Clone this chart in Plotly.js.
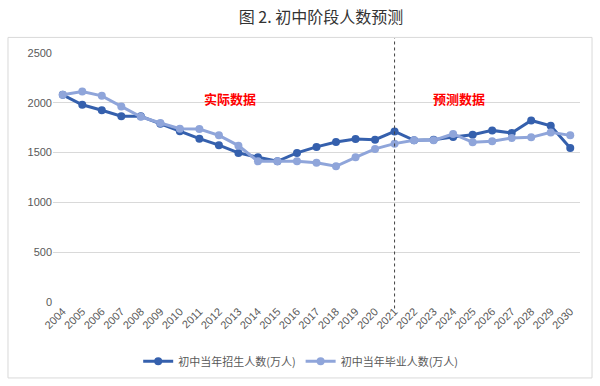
<!DOCTYPE html>
<html>
<head>
<meta charset="utf-8">
<script src="https://cdn.plot.ly/plotly-3.0.1.min.js"></script>
<style>html,body{margin:0;padding:0;background:#fff}#chart{width:600px;height:386px}</style>
</head>
<body>
<div id="chart"></div>
<script>
const years = ["2004","2005","2006","2007","2008","2009","2010","2011","2012","2013","2014","2015","2016","2017","2018","2019","2020","2021","2022","2023","2024","2025","2026","2027","2028","2029","2030"];
const enrollment = [2080,1980,1925,1865,1865,1790,1715,1640,1575,1497,1453,1413,1497,1557,1607,1637,1630,1713,1623,1630,1657,1680,1723,1697,1823,1770,1547];
const graduates = [2080,2113,2070,1963,1860,1797,1740,1737,1673,1570,1413,1413,1413,1397,1363,1453,1537,1590,1623,1623,1687,1603,1613,1647,1653,1703,1673];
const seriesNames = ["初中当年招生人数(万人)","初中当年毕业人数(万人)"];
const yTicks = [0,500,1000,1500,2000,2500];
const splitYear = "2021";
const labels = ["实际数据","预测数据"];

const darkBlue = "#3560ad";
const lightBlue = "#8fa5da";
const traces = [
  {x: years, y: enrollment, name: seriesNames[0], type: "scatter", mode: "lines+markers",
   line: {color: darkBlue, width: 3}, marker: {color: darkBlue, size: 8}},
  {x: years, y: graduates, name: seriesNames[1], type: "scatter", mode: "lines+markers",
   line: {color: lightBlue, width: 3}, marker: {color: lightBlue, size: 8}}
];
const splitIdx = years.indexOf(splitYear);
const layout = {
  width: 600, height: 386,
  margin: {l: 53, r: 20, t: 53, b: 82.5},
  paper_bgcolor: "#fff", plot_bgcolor: "#fff",
  font: {family: "Liberation Sans, Noto Sans CJK SC, sans-serif", size: 11, color: "#595959"},
  title: {text: "图 2. 初中阶段人数预测", x: 0.535, xref: "container", xanchor: "center", y: 0.955, yref: "container", yanchor: "middle",
          font: {family: "Noto Sans CJK SC, sans-serif", size: 16, color: "#333"}},
  xaxis: {type: "category", range: [-0.5, years.length - 0.5], tickangle: -45, showgrid: false, zeroline: false, showline: false,
          ticks: "", tickfont: {size: 11, color: "#595959"}, fixedrange: true},
  yaxis: {range: [0, 2500], tickvals: yTicks, showgrid: true, gridcolor: "#d9d9d9", gridwidth: 1, zeroline: false, showline: false,
          ticks: "", tickfont: {size: 11, color: "#595959"}, fixedrange: true},
  showlegend: true,
  legend: {orientation: "h", x: 0.47, xanchor: "center", y: -0.233, yanchor: "middle", font: {family: "Noto Sans CJK SC, sans-serif", size: 11, color: "#595959"},
           itemwidth: 30, tracegroupgap: 0},
  shapes: [
    {type: "rect", xref: "paper", yref: "paper", x0: -0.0854, x1: 1.0228, y0: -0.305, y1: 1.0626, line: {color: "#d9d9d9", width: 1}, layer: "below"},
    {type: "line", xref: "x", yref: "paper", x0: splitIdx, x1: splitIdx, y0: -0.026, y1: 1.06, line: {color: "#404040", width: 1, dash: "dot"}}
  ],
  annotations: [
    {text: labels[0], xref: "paper", yref: "paper", x: 0.336, y: 0.863, showarrow: false, font: {family: "Noto Sans CJK SC, sans-serif", size: 13, color: "#ff0000", weight: "bold"}},
    {text: labels[1], xref: "paper", yref: "paper", x: 0.8235, y: 0.863, showarrow: false, font: {family: "Noto Sans CJK SC, sans-serif", size: 13, color: "#ff0000", weight: "bold"}}
  ]
};
Plotly.newPlot("chart", traces, layout, {displayModeBar: false, staticPlot: true});
</script>
</body>
</html>
